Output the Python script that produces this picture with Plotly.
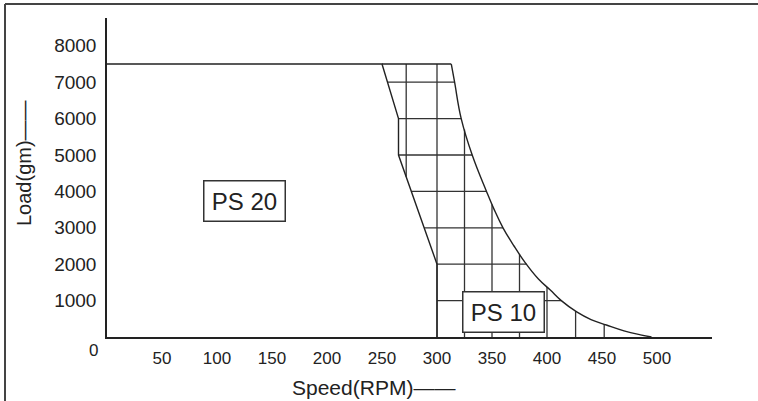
import numpy as np
import plotly.graph_objects as go

# ---- data (speed in RPM, load in gm) ----
ps20_rpm = [0, 250, 265, 265, 300, 300]
ps20_load = [7500, 7500, 6000, 5000, 2000, 0]

ps10_top_rpm = [250, 313]
ps10_top_load = [7500, 7500]

ps10_curve_rpm = [313, 316, 322, 332, 345, 352, 360, 370, 380, 392, 403, 413, 427, 440, 454, 470, 485, 495]
ps10_curve_load = [7500, 7000, 6000, 5000, 4000, 3500, 3000, 2500, 2050, 1600, 1290, 1000, 690, 480, 330, 170, 60, 0]

grid_rpm = [272, 300, 325, 350, 375, 400, 426, 452]
grid_load = [1000, 2000, 3000, 4000, 5000, 6000, 7000]

x_ticks = [50, 100, 150, 200, 250, 300, 350, 400, 450, 500]
y_ticks = [1000, 2000, 3000, 4000, 5000, 6000, 7000, 8000]

labels = ["PS 20", "PS 10"]
label_rpm = [125, 360]
label_load = [3750, 690]

INK = "#222222"
FONT = "Liberation Sans, Arial, sans-serif"

# ---- grid inside PS 10 band, clipped to the envelope ----
left_load_asc = ps20_load[1:][::-1]
left_rpm_asc = ps20_rpm[1:][::-1]
curve_load_asc = ps10_curve_load[::-1]
curve_rpm_asc = ps10_curve_rpm[::-1]

gx, gy = [], []
for L in grid_load:
    xl = float(np.interp(L, left_load_asc, left_rpm_asc))
    xr = float(np.interp(L, curve_load_asc, curve_rpm_asc))
    gx += [xl, xr, None]
    gy += [L, L, None]
for r in grid_rpm:
    top = float(np.interp(r, ps10_curve_rpm, ps10_curve_load))
    if r >= ps20_rpm[-1]:
        bot = 0.0
    else:
        bot = float(np.interp(r, ps20_rpm[3:5], ps20_load[3:5]))
    gx += [r, r, None]
    gy += [bot, top, None]

fig = go.Figure()
fig.add_trace(go.Scatter(x=gx, y=gy, mode="lines",
                         line=dict(color="#333333", width=1.3),
                         hoverinfo="skip", showlegend=False))
fig.add_trace(go.Scatter(x=ps20_rpm, y=ps20_load, mode="lines",
                         line=dict(color=INK, width=1.4), showlegend=False))
fig.add_trace(go.Scatter(x=ps10_top_rpm, y=ps10_top_load, mode="lines",
                         line=dict(color=INK, width=1.4), showlegend=False))
fig.add_trace(go.Scatter(x=ps10_curve_rpm, y=ps10_curve_load, mode="lines",
                         line=dict(color=INK, width=1.4, shape="spline", smoothing=1.2),
                         showlegend=False))

for t, xv, yv in zip(labels, label_rpm, label_load):
    fig.add_annotation(x=xv, y=yv, xref="x", yref="y", text=t, showarrow=False,
                       xanchor="center", yanchor="middle",
                       font=dict(family=FONT, size=24, color=INK),
                       bgcolor="white", bordercolor="#333333", borderwidth=1.5,
                       borderpad=2, width=76, height=35)

# axis titles and origin label
fig.add_annotation(x=(373 - 107) / 605, y=(337 - 387) / 319, xref="paper", yref="paper",
                   text="Speed(RPM)——", showarrow=False,
                   xanchor="center", yanchor="middle",
                   font=dict(family=FONT, size=21, color=INK))
fig.add_annotation(x=(24 - 107) / 605, y=(337 - 163) / 319, xref="paper", yref="paper",
                   text="Load(gm)——", showarrow=False, textangle=-90,
                   xanchor="center", yanchor="middle",
                   font=dict(family=FONT, size=20, color=INK))
fig.add_annotation(x=(93 - 107) / 605, y=(337 - 350) / 319, xref="paper", yref="paper",
                   text="0", showarrow=False, xanchor="center", yanchor="middle",
                   font=dict(family=FONT, size=17, color=INK))

# outer frame (left and top edges)
fx0 = (5 - 107) / 605
fx1 = (758 - 107) / 605
fy0 = (337 - 401) / 319
fy1 = (337 - 4) / 319
fig.add_shape(type="line", xref="paper", yref="paper", x0=fx0, x1=fx1, y0=fy1, y1=fy1,
              line=dict(color="#444444", width=2))
fig.add_shape(type="line", xref="paper", yref="paper", x0=fx0, x1=fx0, y0=fy0, y1=fy1,
              line=dict(color="#444444", width=2))

fig.update_layout(
    width=758, height=401,
    margin=dict(l=107, r=46, t=18, b=64),
    plot_bgcolor="white", paper_bgcolor="white",
    font=dict(family=FONT, color=INK),
    xaxis=dict(range=[0, 550], showline=True, linecolor=INK, linewidth=1.5,
               showgrid=False, zeroline=False, tickvals=x_ticks, ticks="",
               tickfont=dict(size=17, color=INK), ticklabelstandoff=5, fixedrange=True),
    yaxis=dict(range=[0, 8764], showline=True, linecolor=INK, linewidth=1.5,
               showgrid=False, zeroline=False, tickvals=y_ticks, ticks="",
               tickfont=dict(size=19, color=INK), ticklabelstandoff=5, fixedrange=True),
)

fig.write_html("out.html", config={"displayModeBar": False},
               post_script="document.body.style.margin='0';")
